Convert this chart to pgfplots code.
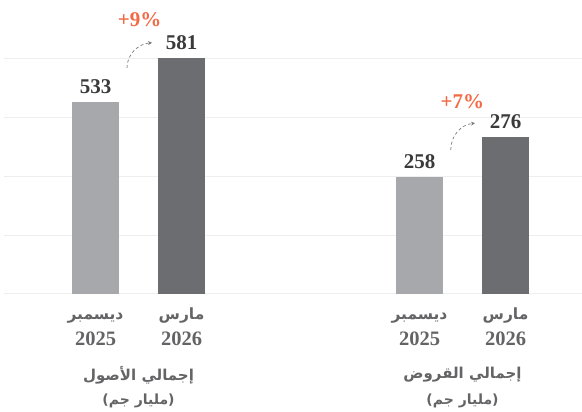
\documentclass[border=0pt]{standalone}
\usepackage{pgfplots}
\pgfplotsset{compat=1.18}
\usepackage{fontspec}
\setmainfont{Liberation Serif}
\newfontfamily\arabicfont[Script=Arabic]{DejaVu Sans}
\TeXXeTstate=1
\usetikzlibrary{arrows.meta}
\definecolor{barlight}{HTML}{A7A8AB}
\definecolor{bardark}{HTML}{6C6D71}
\definecolor{gridc}{HTML}{EEEEEE}
\definecolor{valc}{HTML}{3A3A3A}
\definecolor{tickc}{HTML}{646466}
\definecolor{pctc}{HTML}{F26A45}
\definecolor{arrc}{HTML}{7A7A7A}

\newcommand{\mon}[2]{{\arabicfont\bfseries\fontsize{15.5}{15.5}\selectfont\rule[-5pt]{0pt}{15pt}\smash{\beginR #1\endR}}\\[7pt]{\bfseries\fontsize{20.5}{20.5}\selectfont #2}}

\pgfplotsset{mybars/.style={
  scale only axis, width=289pt, height=235.3pt, anchor=south west,
  ybar, bar width=47pt, bar shift=0pt,
  axis line style={draw=none}, major tick length=0pt,
  ymajorgrids, grid style={gridc, line width=1pt},
  yticklabels={}, xtick={0,1},
  xticklabels={\mon{ديسمبر}{2025}, \mon{مارس}{2026}},
  xticklabel style={align=center, text=tickc, inner sep=0pt, anchor=north, yshift=-15pt},
  /pgf/number format/assume math mode=true,
  nodes near coords,
  every node near coord/.append style={font=\bfseries\fontsize{21}{21}\selectfont, text=valc, inner sep=0pt, yshift=8pt},
  clip=false,
}}

\begin{document}
\begin{tikzpicture}
\useasboundingbox (0,0) rectangle (582pt,412pt);
% left group: total assets
\begin{axis}[mybars, at={(4pt,118pt)},
  xmin=-1.0640, xmax=2.2965, ymin=325, ymax=580,
  ytick={325,388.75,452.5,516.25,580}]
\addplot[fill=barlight, draw=none] coordinates {(0,533)};
\addplot[fill=bardark, draw=none] coordinates {(1,581)};
\draw[arrc, line width=0.7pt, dash pattern=on 3pt off 2.5pt, -{Stealth[length=4pt,width=4pt]}] (axis cs:0.366,569.9) to[out=90,in=185] (axis cs:0.657,597.3);
\node[text=pctc, font=\bfseries\fontsize{21}{21}\selectfont] at (axis cs:0.512,621.9) {+9\%};
\node[yshift=-81pt, text=tickc, font=\arabicfont\bfseries\fontsize{15}{15}\selectfont] at (axis cs:0.5,325) {\beginR إجمالي الأصول\endR};
\node[yshift=-107pt, text=tickc, font=\arabicfont\bfseries\fontsize{14}{14}\selectfont] at (axis cs:0.5,325) {\beginR(مليار جم)\endR};
\end{axis}
% right group: total loans
\begin{axis}[mybars, at={(293pt,118pt)},
  xmin=-1.4709, xmax=1.8895, ymin=205.35, ymax=311.25,
  ytick={205.35,231.83,258.3,284.78,311.25}]
\addplot[fill=barlight, draw=none] coordinates {(0,258)};
\addplot[fill=bardark, draw=none] coordinates {(1,276)};
\draw[arrc, line width=0.7pt, dash pattern=on 3pt off 2.5pt, -{Stealth[length=4pt,width=4pt]}] (axis cs:0.363,270.15) to[out=90,in=185] (axis cs:0.645,282.2);
\node[text=pctc, font=\bfseries\fontsize{21}{21}\selectfont] at (axis cs:0.498,291.75) {+7\%};
\node[yshift=-81pt, text=tickc, font=\arabicfont\bfseries\fontsize{15}{15}\selectfont] at (axis cs:0.5,205.35) {\beginR إجمالي القروض\endR};
\node[yshift=-107pt, text=tickc, font=\arabicfont\bfseries\fontsize{14}{14}\selectfont] at (axis cs:0.5,205.35) {\beginR(مليار جم)\endR};
\end{axis}
\end{tikzpicture}
\end{document}
